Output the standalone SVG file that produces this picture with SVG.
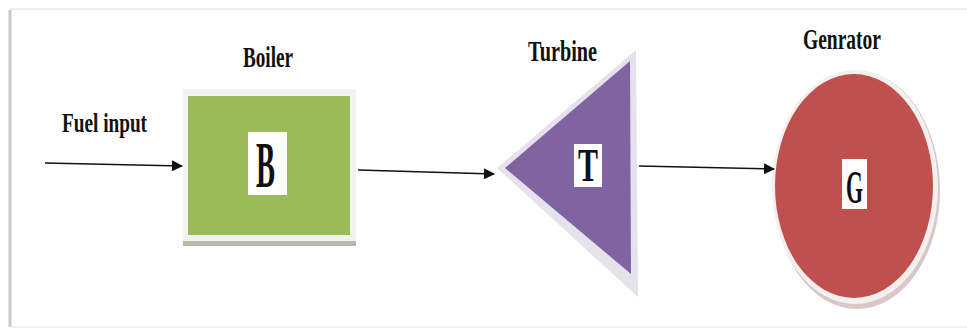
<svg xmlns="http://www.w3.org/2000/svg" width="967" height="328" viewBox="0 0 967 328">
<defs>
<style>
.lbl{font-family:"Liberation Serif","Times New Roman",serif;font-weight:bold;fill:#111;}
.conn{stroke:#111;stroke-width:1.6;fill:none;}
.tag{fill:#fff;}
</style>
<marker id="ah" markerWidth="11" markerHeight="11" refX="10" refY="5.5" orient="auto" markerUnits="userSpaceOnUse">
<path d="M0,0 L11,5.5 L0,11 Z" fill="#111"/>
</marker>
</defs>
<rect width="967" height="328" fill="#fff"/>
<g id="frame">
<line x1="10" y1="10" x2="10" y2="327" stroke="#c8c8c8" stroke-width="3"/>
<line x1="10" y1="9" x2="967" y2="9" stroke="#ececec" stroke-width="2"/>
<line x1="10" y1="327" x2="967" y2="327" stroke="#ececec" stroke-width="1.5"/>
</g>
<g id="fuel">
<text class="lbl" x="62" y="132" font-size="28" textLength="85" lengthAdjust="spacingAndGlyphs">Fuel input</text>
</g>
<g id="boiler">
<rect x="183" y="89" width="173" height="156" fill="#f2f2f2"/>
<rect x="183" y="241" width="173" height="5" fill="#b4bca8"/>
<rect x="188" y="96" width="162" height="139" fill="#9bbb59"/>
<rect class="tag" x="248" y="132" width="39" height="63"/>
<text class="lbl" x="256" y="187" font-size="66" textLength="19" lengthAdjust="spacingAndGlyphs">B</text>
<text class="lbl" x="243" y="67" font-size="30" textLength="50" lengthAdjust="spacingAndGlyphs">Boiler</text>
</g>
<g id="turbine">
<polygon points="497,168 636,50 638,297" fill="#e6e2ec"/>
<polygon points="505,168 630,61 631,274" fill="#8064a2"/>
<rect class="tag" x="574" y="144" width="28" height="43"/>
<text class="lbl" x="578" y="181" font-size="46" textLength="20" lengthAdjust="spacingAndGlyphs">T</text>
<text class="lbl" x="528" y="61" font-size="30" textLength="69" lengthAdjust="spacingAndGlyphs">Turbine</text>
</g>
<g id="generator">
<ellipse cx="857" cy="190" rx="83" ry="119" fill="#d9c7c7"/>
<ellipse cx="855" cy="187" rx="83" ry="117" fill="#f4f0f0"/>
<ellipse cx="854" cy="186" rx="79" ry="112" fill="#c0504d"/>
<rect class="tag" x="842" y="159" width="25" height="50"/>
<text class="lbl" x="846" y="203" font-size="46" textLength="17" lengthAdjust="spacingAndGlyphs">G</text>
<text class="lbl" x="803" y="49" font-size="30" textLength="78" lengthAdjust="spacingAndGlyphs">Genrator</text>
</g>
<g id="connectors">
<line class="conn" x1="45" y1="163" x2="182" y2="166" marker-end="url(#ah)"/>
<line class="conn" x1="358" y1="170" x2="494" y2="174" marker-end="url(#ah)"/>
<line class="conn" x1="639" y1="166" x2="774" y2="169" marker-end="url(#ah)"/>
</g>
</svg>
